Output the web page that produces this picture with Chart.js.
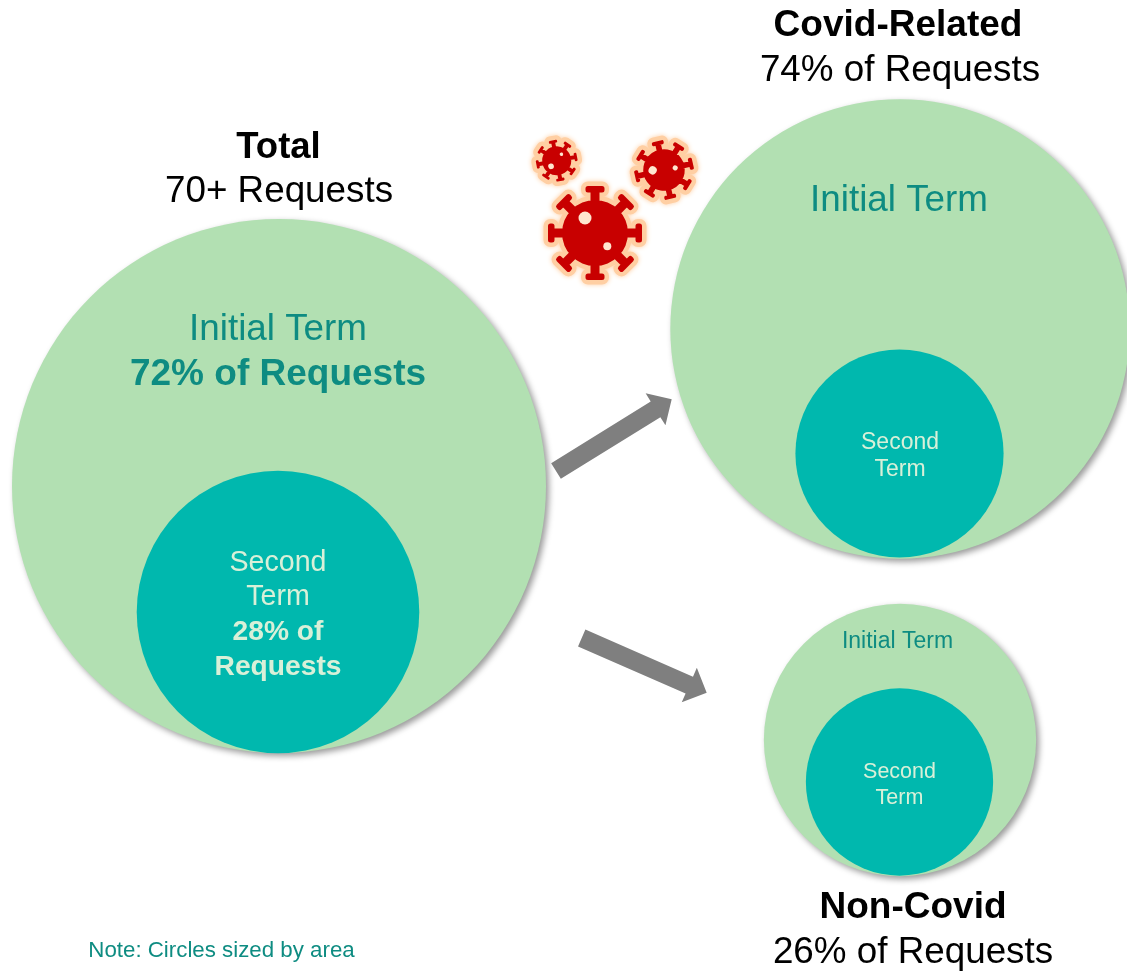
<!DOCTYPE html>
<html>
<head>
<meta charset="utf-8">
<title>Requests by term</title>
<script src="https://cdn.jsdelivr.net/npm/chart.js@4"></script>
<style>
  html, body { margin: 0; padding: 0; background: #fff; overflow: hidden; }
  canvas { display: block; }
</style>
</head>
<body>
<canvas id="chart" width="1127" height="971"></canvas>
<script>
// areas as % of all requests: total, covid-related, non-covid
const outerArea = [100, 74, 26];
const innerArea = [28, 15.2, 12.3];

const groupNames = ["Total", "Covid-Related", "Non-Covid"];
const groupCounts = ["70+ Requests", "74% of Requests", "26% of Requests"];
const initialTerm = "Initial Term";
const secondTerm = ["Second", "Term"];
const termShares = [72, 28];
const note = "Note: Circles sized by area";

// circle centres, in the axis units below
const outerX = [279, 900, 900];
const outerY = [486, 329, 740];
const innerX = [278, 899.5, 899.5];
const innerY = [612, 453.5, 782];

const PX_PER_ROOT_AREA = 26.7;
const WIDTH = 1127;
const HEIGHT = 971;

// bubble charts inset the chart area by the largest radius, so the axis
// ranges start there too and one axis unit stays one canvas pixel
const INSET = Math.sqrt(Math.max(...outerArea)) * PX_PER_ROOT_AREA;

const GREEN = "#B2E0B2";
const TEAL = "#00B8AE";
const DARK_TEAL = "#0E8C82";
const PALE = "#D8F0D8";
const SANS = '"Liberation Sans", Arial, sans-serif';

function toPoints(xs, ys, areas) {
  return areas.map((a, i) => ({ x: xs[i], y: ys[i], r: Math.sqrt(a) * PX_PER_ROOT_AREA }));
}

// ================= ARROWS =================
function drawArrow(ctx, x0, y0, x1, y1) {
  const len = Math.hypot(x1 - x0, y1 - y0);
  ctx.save();
  ctx.translate(x0, y0);
  ctx.rotate(Math.atan2(y1 - y0, x1 - x0));
  ctx.fillStyle = "#7F7F7F";
  ctx.beginPath();
  ctx.moveTo(0, -9.2);
  ctx.lineTo(len - 19, -9.2);
  ctx.lineTo(len - 19, -18.8);
  ctx.lineTo(len, 0);
  ctx.lineTo(len - 19, 18.8);
  ctx.lineTo(len - 19, 9.2);
  ctx.lineTo(0, 9.2);
  ctx.closePath();
  ctx.fill();
  ctx.restore();
}

// ================= VIRUS ICONS =================
function drawVirus(ctx, x, y, scale, angle) {
  ctx.save();
  ctx.translate(x, y);
  ctx.scale(scale, scale);
  ctx.rotate(angle * Math.PI / 180);

  ctx.beginPath();
  ctx.arc(0, 0, 33, 0, Math.PI * 2);
  for (let i = 0; i < 8; i++) {
    ctx.rotate(Math.PI / 4);
    ctx.rect(-4.5, -44, 9, 14);
    ctx.roundRect(-9.5, -47, 19, 6.5, 2.5);
  }

  // the halo keeps the same width in pixels on every icon
  ctx.save();
  ctx.shadowColor = "#FFCFA3";
  ctx.shadowBlur = 5;
  ctx.strokeStyle = "#FFCFA3";
  ctx.lineJoin = "round";
  ctx.lineWidth = 9 / scale;
  ctx.stroke();
  ctx.restore();

  ctx.fillStyle = "#C80000";
  ctx.fill();

  ctx.fillStyle = "#FFE6CF";
  ctx.beginPath();
  ctx.arc(-10, -15, 6.5, 0, Math.PI * 2);
  ctx.fill();
  ctx.beginPath();
  ctx.arc(12.3, 13.3, 4, 0, Math.PI * 2);
  ctx.fill();
  ctx.restore();
}

// ================= PLUGINS =================
const outerShadow = {
  id: "outerShadow",
  beforeDatasetDraw(chart, args) {
    if (args.index !== 1) return;
    const ctx = chart.ctx;
    ctx.save();
    ctx.shadowColor = "rgba(0,0,0,0.4)";
    ctx.shadowBlur = 6;
    ctx.shadowOffsetX = 3;
    ctx.shadowOffsetY = 3;
  },
  afterDatasetDraw(chart, args) {
    if (args.index === 1) chart.ctx.restore();
  }
};

const decorations = {
  id: "decorations",
  afterDatasetsDraw(chart) {
    const ctx = chart.ctx;
    const sx = chart.scales.x;
    const sy = chart.scales.y;
    const px = v => sx.getPixelForValue(v);
    const py = v => sy.getPixelForValue(v);

    drawArrow(ctx, px(556), py(471), px(671.7), py(399.3));
    drawArrow(ctx, px(581.7), py(638), px(706.7), py(692.7));

    drawVirus(ctx, px(556.7), py(160.7), 0.44, -101);
    drawVirus(ctx, px(664), py(170), 0.63, -58);
    drawVirus(ctx, px(595), py(233), 1, 0);

    function label(text, x, y, size, color, bold) {
      ctx.font = (bold ? "bold " : "") + size + "px " + SANS;
      ctx.fillStyle = color;
      ctx.textAlign = "center";
      ctx.textBaseline = "middle";
      ctx.fillText(text, px(x), py(y));
    }

    // total
    label(groupNames[0], 278.5, 148, 36.5, "#000", true);
    label(groupCounts[0], 279, 192, 36.8, "#000", false);
    label(initialTerm, 278, 330, 36.8, DARK_TEAL, false);
    label(termShares[0] + "% of Requests", 278, 375, 37, DARK_TEAL, true);
    label(secondTerm[0], 278, 563, 28.6, PALE, false);
    label(secondTerm[1], 278, 597, 28.6, PALE, false);
    label(termShares[1] + "% of", 278, 632, 28.2, PALE, true);
    label("Requests", 278, 667, 28.2, PALE, true);

    // covid-related
    label(groupNames[1], 898, 26, 37, "#000", true);
    label(groupCounts[1], 900, 71, 36.8, "#000", false);
    label(initialTerm, 899, 201, 36.8, DARK_TEAL, false);
    label(secondTerm[0], 900, 443, 23, PALE, false);
    label(secondTerm[1], 900, 470, 23, PALE, false);

    // non-covid
    label(initialTerm, 897.5, 642, 23, DARK_TEAL, false);
    label(secondTerm[0], 899.5, 772, 21.5, PALE, false);
    label(secondTerm[1], 899.5, 798, 21.5, PALE, false);
    label(groupNames[2], 913, 908, 37, "#000", true);
    label(groupCounts[2], 913, 953, 36.8, "#000", false);

    label(note, 221.5, 951, 22.3, DARK_TEAL, false);
  }
};

// ================= CHART =================
new Chart(document.getElementById("chart"), {
  type: "bubble",
  data: {
    datasets: [
      { label: "Second Term", data: toPoints(innerX, innerY, innerArea), backgroundColor: TEAL, borderWidth: 0, clip: false },
      { label: "Initial Term", data: toPoints(outerX, outerY, outerArea), backgroundColor: GREEN, borderWidth: 0, clip: false }
    ]
  },
  options: {
    responsive: false,
    animation: false,
    layout: { padding: 0 },
    plugins: { legend: { display: false }, tooltip: { enabled: false } },
    scales: {
      x: { display: false, min: INSET, max: WIDTH - INSET },
      y: { display: false, min: INSET, max: HEIGHT - INSET, reverse: true }
    }
  },
  plugins: [outerShadow, decorations]
});
</script>
</body>
</html>
